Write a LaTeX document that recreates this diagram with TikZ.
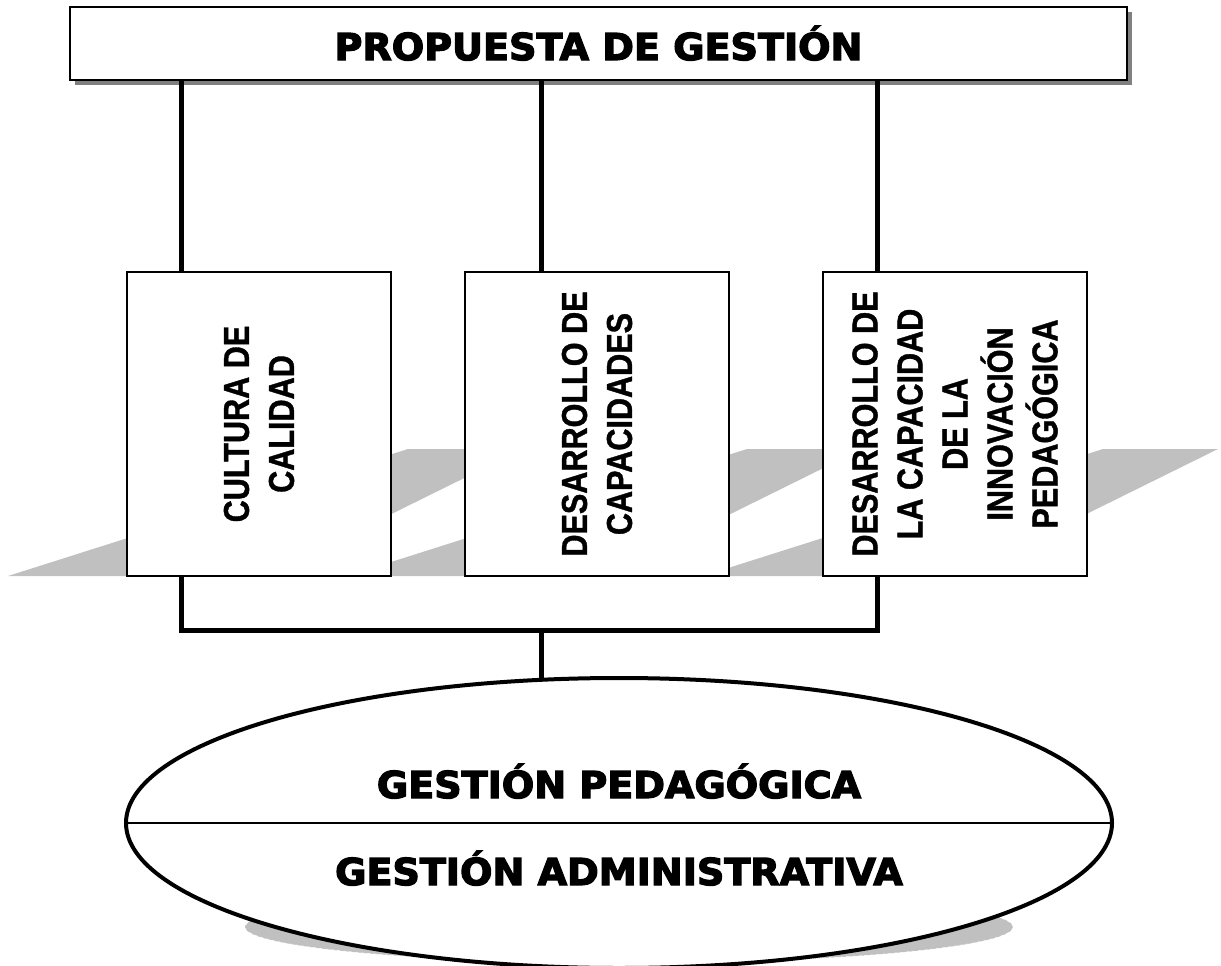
\documentclass[tikz,border=0pt]{standalone}
\usepackage{fontspec}
\newfontfamily\headfont{DejaVu Sans}[FakeStretch=1.03, BoldFeatures={FakeBold=3.5}]
\newfontfamily\boxfont{Liberation Sans}[FakeStretch=0.85, BoldFeatures={FakeBold=1}]
\usetikzlibrary{shapes.geometric,shadows,positioning}
\definecolor{floorgray}{RGB}{192,192,192}
\definecolor{shadegray}{RGB}{128,128,128}

\begin{document}
\begin{tikzpicture}[x=1pt,y=-1pt,
    titlebox/.style={draw, line width=2pt, fill=white, minimum width=1057pt, minimum height=73pt, inner sep=0pt,
        text height=33pt, text depth=0pt, font=\headfont\bfseries\fontsize{37}{40}\selectfont,
        drop shadow={shadow xshift=5pt, shadow yshift=-5pt, fill=shadegray, opacity=1}},
    pilar/.style={draw, line width=2pt, fill=white, rotate=90, minimum width=304pt, minimum height=264pt,
        align=center, inner sep=0pt, font=\boxfont\bfseries\fontsize{36}{45}\selectfont},
    heavy/.style={font=\headfont\bfseries\fontsize{37}{40}\selectfont, inner sep=0pt, anchor=base},
    conn/.style={line width=5pt},
    floor/.style={fill=floorgray}
]
\useasboundingbox (0,0) rectangle (1221,966);

% gray floor strips behind the pillars
\foreach \x in {8,347,703}
  \fill[floor] (\x,576) -- ++(400,-127) -- ++(115,0) -- ++(-257,127) -- cycle;

% shadow under the base
\draw[white, dashed, line width=0.5pt, fill=floorgray] (629,927) ellipse [x radius=384pt, y radius=36pt];

\node[titlebox] (title) at (598.5,43.5) {PROPUESTA DE GESTIÓN};

% pillars (rotated: east = top, west = bottom)
\node[pilar] (cal) at (259,424) {CULTURA DE\\CALIDAD};
\node[pilar] (cap) at (597,424) {DESARROLLO DE\\CAPACIDADES};
\node[pilar] (inn) at (955,424) {DESARROLLO DE\\LA CAPACIDAD\\DE LA\\INNOVACIÓN\\PEDAGÓGICA};

\coordinate (j1) at (181,630);
\coordinate (j2) at (541,630);
\coordinate (j3) at (877,630);

\draw[conn] (title.south -| j1) -- (cal.east -| j1);
\draw[conn] (title.south -| j2) -- (cap.east -| j2);
\draw[conn] (title.south -| j3) -- (inn.east -| j3);
\draw[conn] (cal.west -| j1) -- (j1) -- (j3) -- (inn.west -| j3);

\node[ellipse, draw, line width=4pt, fill=white, minimum width=986pt, minimum height=290pt, inner sep=0pt] (gest) at (619,823) {};
\draw[conn, shorten >=-2pt] (j2) -- (gest.north -| j2);
\draw[line width=2pt] (gest.west) -- (gest.east);
\node[heavy] (ped) at (619,798) {GESTIÓN PEDAGÓGICA};
\node[heavy] (adm) at (619,885) {GESTIÓN ADMINISTRATIVA};
\end{tikzpicture}
\end{document}
